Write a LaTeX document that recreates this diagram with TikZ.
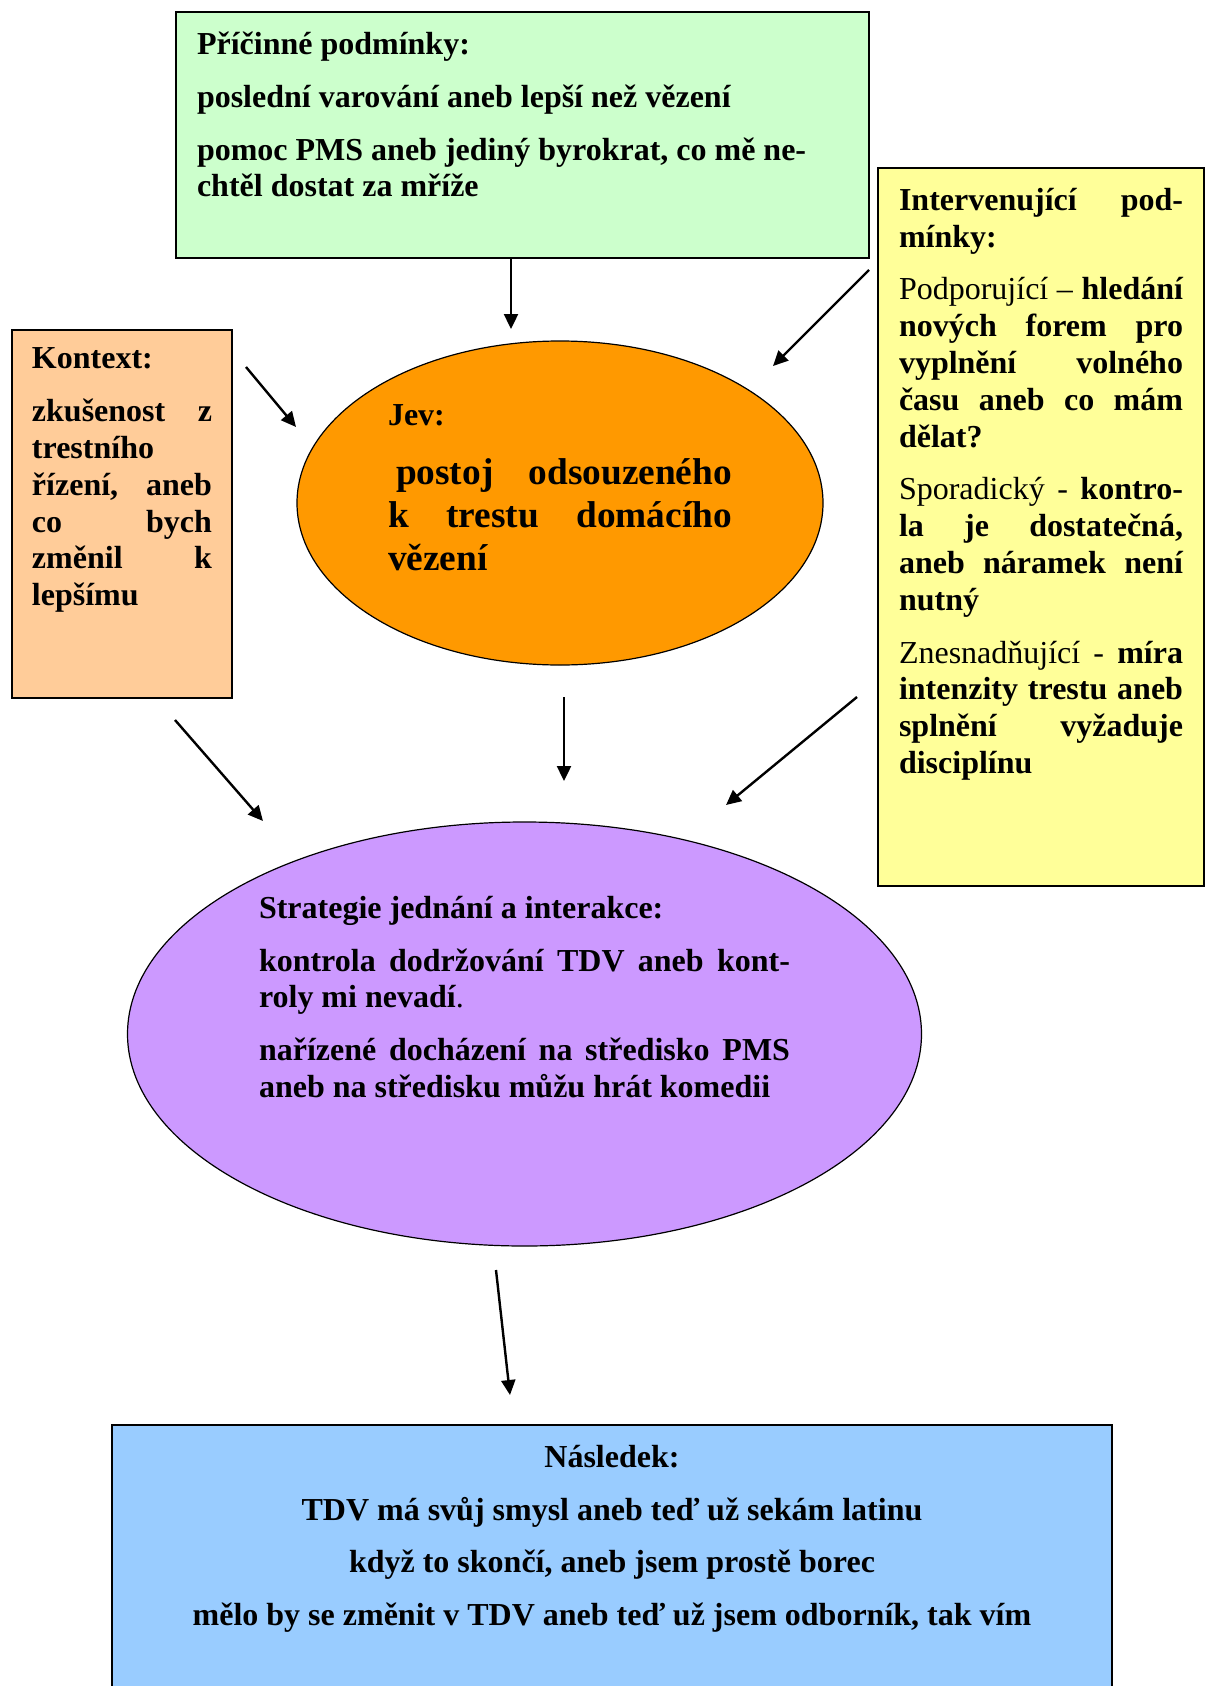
\documentclass[tikz,border=0pt]{standalone}
\usepackage{fontspec}
\setmainfont{Liberation Serif}
\usetikzlibrary{arrows.meta,shapes.geometric}
\definecolor{verde}{HTML}{CCFFCC}
\definecolor{amarillo}{HTML}{FFFF99}
\definecolor{salmon}{HTML}{FFCC99}
\definecolor{naranja}{HTML}{FF9900}
\definecolor{lila}{HTML}{CC99FF}
\definecolor{celeste}{HTML}{99CCFF}
\begin{document}
\begin{tikzpicture}[x=0.5pt,y=-0.5pt]
% estilos de linea y relleno
\tikzstyle{flecha} = [line width=1.2pt,-{Triangle[length=7.5pt,width=7pt]}]
\tikzstyle{caja} = [draw=black,line width=1pt,rectangle,inner xsep=10pt,inner ysep=10pt]
\tikzstyle{elipse} = [draw=black,line width=0.6pt,ellipse,inner sep=0pt]
% texto de un cuadro
% #1: ancho del texto
% #2: alto del texto
% #3: texto
\newcommand{\textocaja}[3]{\parbox[c][#2][t]{#1}{\setlength{\parskip}{8pt}\tolerance=10000 \hyphenpenalty=10000 #3}}
% --------------------------------------
\clip (0,0) rectangle (1206,1686);
\begin{scope}[font=\fontsize{16}{18.4}\selectfont\bfseries]
% --------------------------------------
% dibujar cuadros
\node [caja,fill=verde,inner xsep=10.5pt] (causas) at (522.5,135)
{\textocaja{325.5pt}{103pt}{\raggedright Příčinné podmínky:\par
poslední varování aneb lepší než vězení\par
pomoc PMS aneb jediný byrokrat, co mě ne-\\chtěl dostat za mříže}};
\node [caja,fill=amarillo,inner xsep=10.5pt] (interv) at (1041,527)
{\textocaja{142pt}{339pt}{Intervenující pod-\linebreak mínky:\par
\textmd{Podporující –} hledání\linebreak nových forem pro\linebreak vyplnění volného\linebreak času aneb co mám\linebreak dělat?\par
\textmd{Sporadický -} kontro-\linebreak la je dostatečná,\linebreak aneb náramek není\linebreak nutný\par
\textmd{Znesnadňující -} míra\linebreak intenzity trestu aneb\linebreak splnění vyžaduje\linebreak disciplínu}};
\node [caja,fill=salmon,inner ysep=9pt] (kontext) at (122,514)
{\textocaja{90pt}{166pt}{Kontext:\par
zkušenost z\linebreak trestního\linebreak řízení, aneb\linebreak co bych\linebreak změnil k\linebreak lepšímu}};
\node [caja,fill=celeste] (nasledek) at (612,1562.5)
{\textocaja{480pt}{117.5pt}{\centering Následek:\par
TDV má svůj smysl aneb teď už sekám latinu\par
když to skončí, aneb jsem prostě borec\par
mělo by se změnit v TDV aneb teď už jsem odborník, tak vím}};
% dibujar elipses
\node [elipse,fill=naranja,minimum width=263pt,minimum height=162pt] (jev) at (560,503)
{\textocaja{172pt}{98pt}{Jev:\par
{\fontsize{18.67}{21.5}\selectfont\hspace*{4pt}postoj odsouzeného\linebreak k trestu domácího\linebreak vězení\par}}};
\node [elipse,fill=lila,minimum width=397pt,minimum height=212pt] (strategie) at (524.5,1034)
{\textocaja{265.5pt}{138pt}{Strategie jednání a interakce:\par
kontrola dodržování TDV aneb kont-\linebreak roly mi nevadí\textmd{.}\par
nařízené docházení na středisko PMS\linebreak aneb na středisku můžu hrát komedii}};
% dibujar flechas
\coordinate (a1) at (511,258);  \coordinate (b1) at (511,329);
\coordinate (a2) at (869,270);  \coordinate (b2) at (773,366);
\coordinate (a3) at (246,367);  \coordinate (b3) at (296,427);
\coordinate (a4) at (564,697);  \coordinate (b4) at (564,781);
\coordinate (a5) at (175,720);  \coordinate (b5) at (263,821);
\coordinate (a6) at (857,697);  \coordinate (b6) at (726,805);
\coordinate (a7) at (496,1270); \coordinate (b7) at (510,1395);
\foreach \i in {1,...,7} \draw [flecha] (a\i) -- (b\i);
% --------------------------------------
\end{scope}% --------------------------------------
\end{tikzpicture}
\end{document}
